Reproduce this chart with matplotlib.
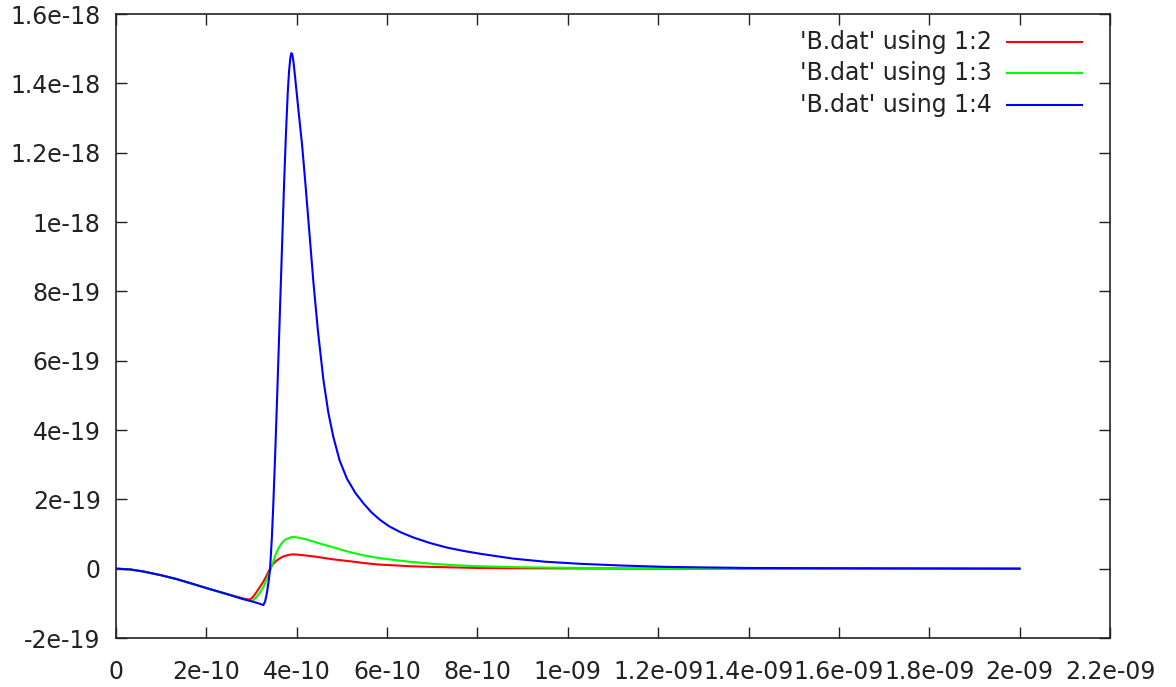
import matplotlib
matplotlib.use("Agg")
import matplotlib.pyplot as plt
from matplotlib.lines import Line2D
import numpy as np

# Data (x in units of 1e-10, y in units of 1e-19)
x_col2 = [0, 0.3, 0.6, 1.0, 1.34, 1.7, 2.08, 2.45, 2.82, 2.93, 2.99, 3.06, 3.15, 3.26, 3.34,
          3.41, 3.48, 3.56, 3.64, 3.72, 3.80, 3.88, 3.96, 4.06, 4.2, 4.4, 4.6, 4.8, 5.0,
          5.2, 5.5, 5.8, 6.1, 6.5, 7.0, 7.5, 8.0, 9.0, 10.5, 12, 20]
y_col2 = [0, -0.02, -0.08, -0.19, -0.30, -0.44, -0.59, -0.73, -0.86, -0.89, -0.87, -0.77, -0.60, -0.38, -0.18,
          0.0, 0.14, 0.24, 0.31, 0.36, 0.39, 0.41, 0.41, 0.40, 0.38, 0.35, 0.31, 0.27, 0.24,
          0.21, 0.16, 0.12, 0.10, 0.07, 0.05, 0.035, 0.02, 0.01, 0.005, 0.0, 0.0]

x_col3 = [0, 0.3, 0.6, 1.0, 1.34, 1.7, 2.08, 2.45, 2.82, 2.97, 3.03, 3.10, 3.18, 3.26, 3.34,
          3.41, 3.48, 3.54, 3.60, 3.66, 3.72, 3.80, 3.88, 3.96, 4.05, 4.2, 4.4, 4.6, 4.8,
          5.0, 5.2, 5.5, 5.8, 6.1, 6.5, 7.0, 7.5, 8.0, 9.0, 10.0, 11.5, 13, 20]
y_col3 = [0, -0.02, -0.08, -0.19, -0.30, -0.44, -0.59, -0.73, -0.88, -0.93, -0.92, -0.83, -0.70, -0.54, -0.30,
          -0.06, 0.20, 0.43, 0.60, 0.72, 0.81, 0.87, 0.91, 0.91, 0.89, 0.85, 0.77, 0.69, 0.62,
          0.54, 0.47, 0.38, 0.31, 0.26, 0.20, 0.14, 0.10, 0.07, 0.04, 0.025, 0.01, 0.005, 0.0]

x_col4 = [0, 0.3, 0.6, 1.0, 1.34, 1.7, 2.08, 2.45, 2.82, 2.97, 3.1, 3.2, 3.26, 3.30, 3.34,
          3.38, 3.41, 3.45, 3.48, 3.52, 3.56, 3.60, 3.64, 3.68, 3.72, 3.76, 3.80, 3.83, 3.86,
          3.88, 3.90, 3.93, 3.97, 4.04, 4.12, 4.19, 4.28, 4.37, 4.47, 4.59, 4.70, 4.81, 4.95,
          5.11, 5.30, 5.48, 5.65, 5.85, 6.05, 6.3, 6.58, 6.95, 7.32, 7.7, 8.06, 8.79, 9.5,
          10.28, 11.2, 12.2, 14, 17, 20]
y_col4 = [0, -0.02, -0.08, -0.19, -0.30, -0.44, -0.59, -0.73, -0.88, -0.93, -0.98, -1.02, -1.05, -0.95, -0.70,
          -0.35, 0.0, 0.9, 1.8, 3.2, 4.7, 6.3, 7.9, 9.5, 11.1, 12.5, 13.7, 14.35, 14.75,
          14.87, 14.85, 14.6, 14.1, 13.2, 12.2, 11.14, 9.7, 8.25, 6.85, 5.45, 4.5, 3.8, 3.12,
          2.6, 2.18, 1.88, 1.63, 1.40, 1.22, 1.05, 0.90, 0.74, 0.61, 0.51, 0.43, 0.29, 0.20,
          0.14, 0.09, 0.05, 0.02, 0.01, 0.0]

labels = ["'B.dat' using 1:2", "'B.dat' using 1:3", "'B.dat' using 1:4"]
colors = ["#ff0000", "#00ff00", "#0000ff"]

xticks = [0, 2e-10, 4e-10, 6e-10, 8e-10, 1e-9, 1.2e-9, 1.4e-9, 1.6e-9, 1.8e-9, 2e-9, 2.2e-9]
xticklabels = ["0", "2e-10", "4e-10", "6e-10", "8e-10", "1e-09", "1.2e-09", "1.4e-09",
               "1.6e-09", "1.8e-09", "2e-09", "2.2e-09"]
yticks = [-2e-19, 0, 2e-19, 4e-19, 6e-19, 8e-19, 1e-18, 1.2e-18, 1.4e-18, 1.6e-18]
yticklabels = ["-2e-19", "0", "2e-19", "4e-19", "6e-19", "8e-19", "1e-18", "1.2e-18",
               "1.4e-18", "1.6e-18"]

series = [
    (np.array(x_col2) * 1e-10, np.array(y_col2) * 1e-19),
    (np.array(x_col3) * 1e-10, np.array(y_col3) * 1e-19),
    (np.array(x_col4) * 1e-10, np.array(y_col4) * 1e-19),
]

plt.rcParams['font.family'] = ['DejaVu Sans']
W, H = 1176, 687
fig = plt.figure(figsize=(W / 100, H / 100), dpi=100)
ax = fig.add_axes([116 / W, 1 - 638 / H, (1110 - 116) / W, (638 - 14) / H])

for (xs, ys), c in zip(series, colors):
    ax.plot(xs, ys, color=c, lw=1.5, solid_joinstyle='round')

ax.set_xlim(0, 2.2e-9)
ax.set_ylim(-2e-19, 1.6e-18)
ax.set_xticks(xticks)
ax.set_xticklabels(xticklabels)
ax.set_yticks(yticks)
ax.set_yticklabels(yticklabels)
ax.tick_params(direction='in', length=8, width=1, top=True, right=True,
               labelsize=17, colors='#222222')
ax.tick_params(axis='x', pad=16)
ax.tick_params(axis='y', pad=11)
for s in ax.spines.values():
    s.set_linewidth(1.2)
    s.set_color('#222222')

# key (legend) in gnuplot style: text right-aligned, sample line to the right
rows_px = [42, 73, 105]
for lab, c, ry in zip(labels, colors, rows_px):
    fig.text(992 / W, 1 - ry / H, lab, ha='right', va='center', fontsize=17, color='#222222')
    fig.add_artist(Line2D([1007 / W, 1082 / W], [1 - ry / H, 1 - ry / H],
                          color=c, lw=1.5, transform=fig.transFigure))

fig.savefig("out.png", dpi=100)
